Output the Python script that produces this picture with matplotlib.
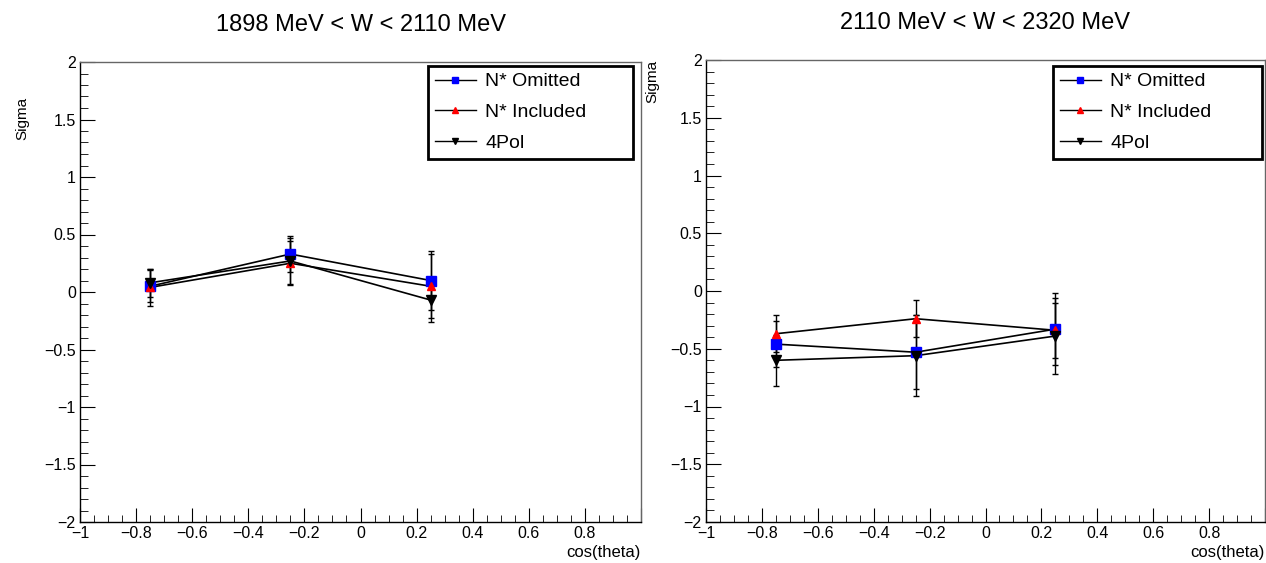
import numpy as np
import matplotlib
matplotlib.use('Agg')
import matplotlib.pyplot as plt
from matplotlib.lines import Line2D
from matplotlib.ticker import MultipleLocator, FuncFormatter

plt.rcParams['font.family'] = ['Liberation Sans', 'DejaVu Sans']

# data
cos_theta = [-0.75, -0.25, 0.25]

titles = ['1898 MeV < W < 2110 MeV', '2110 MeV < W < 2320 MeV']
labels = ['N* Omitted', 'N* Included', '4Pol']

# low W bin
omitted_lo = [0.05, 0.33, 0.10]
omitted_lo_err = [0.14, 0.16, 0.26]
included_lo = [0.04, 0.25, 0.05]
included_lo_err = [0.16, 0.19, 0.28]
pol4_lo = [0.08, 0.27, -0.07]
pol4_lo_err = [0.12, 0.20, 0.19]

# high W bin
omitted_hi = [-0.46, -0.53, -0.33]
omitted_hi_err = [0.20, 0.32, 0.31]
included_hi = [-0.37, -0.24, -0.34]
included_hi_err = [0.16, 0.16, 0.24]
pol4_hi = [-0.60, -0.56, -0.39]
pol4_hi_err = [0.22, 0.35, 0.33]

styles = [('s', 'blue', 6.5), ('^', 'red', 6), ('v', 'black', 6.5)]

W, H = 1266, 563
fig = plt.figure(figsize=(W / 100, H / 100), dpi=100)

# axes rectangles in pixels: left, top, right, bottom
boxes = [(80, 62, 641, 522), (706, 60, 1265, 522)]
legend_px = [(428, 66, 633), (1053, 66, 1262)]
ylab_px = [(22, 97), (652, 60)]

panels = [
    [(omitted_lo, omitted_lo_err), (included_lo, included_lo_err), (pol4_lo, pol4_lo_err)],
    [(omitted_hi, omitted_hi_err), (included_hi, included_hi_err), (pol4_hi, pol4_hi_err)],
]


def fmt(v, pos):
    if abs(v - 1) < 1e-6:
        return ''
    return ('%g' % round(v, 2)).replace('-', '\u2212')


for i, (l, t, r, b) in enumerate(boxes):
    ax = fig.add_axes([l / W, 1 - b / H, (r - l) / W, (b - t) / H])
    for (vals, errs), (mk, col, ms) in zip(panels[i], styles):
        ax.plot(cos_theta, vals, color='black', lw=1.2, zorder=2)
        ax.errorbar(cos_theta, vals, yerr=errs, fmt=mk, color=col, ms=ms,
                    mec=col, ecolor='black', elinewidth=1, capsize=2.5,
                    capthick=1, zorder=3)
    ax.set_xlim(-1, 1)
    ax.set_ylim(-2, 2)
    ax.xaxis.set_major_locator(MultipleLocator(0.2))
    ax.xaxis.set_minor_locator(MultipleLocator(0.05))
    ax.yaxis.set_major_locator(MultipleLocator(0.5))
    ax.yaxis.set_minor_locator(MultipleLocator(0.1))
    ax.xaxis.set_major_formatter(FuncFormatter(fmt))
    ax.yaxis.set_major_formatter(FuncFormatter(lambda v, p: ('%g' % v).replace('-', '\u2212')))
    ax.tick_params(which='both', direction='in', top=False, right=False,
                   labelsize=11.5, color='black')
    ax.tick_params(axis='x', which='major', length=10, pad=3)
    ax.tick_params(axis='x', which='minor', length=5)
    ax.tick_params(axis='y', which='major', length=11, pad=3)
    ax.tick_params(axis='y', which='minor', length=5.5)
    for s in ['top', 'right']:
        ax.spines[s].set_color('#666666')
    for s in ax.spines.values():
        s.set_linewidth(1)

    ax.set_title(titles[i], fontsize=17, pad=22)
    fig.text(r / W, 1 - 552 / H, 'cos(theta)', ha='right', va='center', fontsize=12)
    fig.text(ylab_px[i][0] / W, 1 - ylab_px[i][1] / H, 'Sigma', rotation=90,
             ha='center', va='top', fontsize=11)

    handles = [Line2D([], [], color='black', lw=1, marker=mk, mfc=col, mec=col, ms=ms - 1.5)
               for mk, col, ms in styles]
    lx0, ly0, lx1 = legend_px[i]
    bx = (lx0 - l) / (r - l)
    bw = (lx1 - lx0) / (r - l)
    by = 1 - (ly0 - t) / (b - t)
    leg = ax.legend(handles, labels, loc='upper left', bbox_to_anchor=(bx, by - 0.3, bw, 0.3),
                    mode='expand', borderaxespad=0, fontsize=14, fancybox=False,
                    framealpha=1, edgecolor='black', handlelength=2.1,
                    handletextpad=0.5, labelspacing=0.68, borderpad=0.35, numpoints=1)
    leg.get_frame().set_linewidth(2)

fig.savefig('out.png', dpi=100)
